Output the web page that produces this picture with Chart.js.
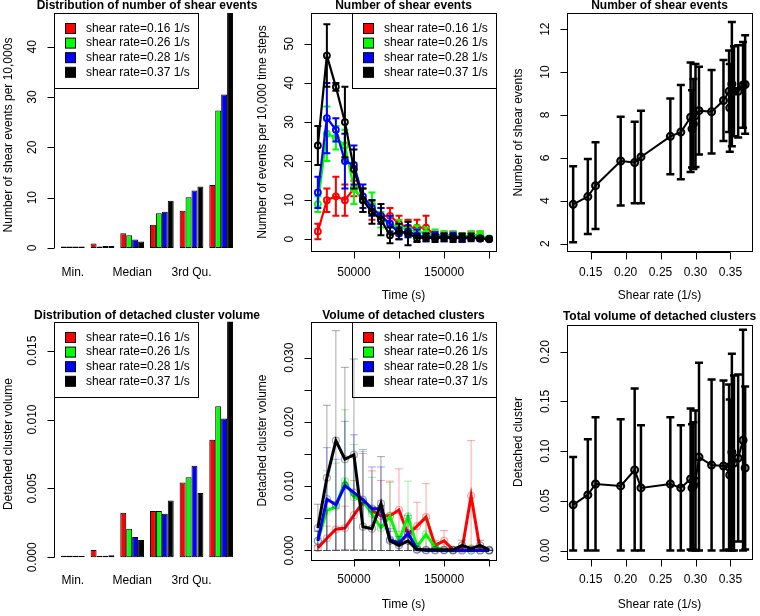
<!DOCTYPE html>
<html>
<head>
<meta charset="utf-8">
<script src="https://cdn.jsdelivr.net/npm/chart.js@4.4.1/dist/chart.umd.min.js"></script>
<style>
body { margin: 0; background: #fff; }
#wrap { position: relative; width: 760px; height: 616px; }
#wrap canvas { position: absolute; left: 0; top: 0; }
</style>
</head>
<body>
<div id="wrap">
<canvas id="c1" width="760" height="616"></canvas>
<canvas id="c2" width="760" height="616"></canvas>
<canvas id="c3" width="760" height="616"></canvas>
<canvas id="c4" width="760" height="616"></canvas>
<canvas id="c5" width="760" height="616"></canvas>
<canvas id="c6" width="760" height="616"></canvas>
</div>
<script>
var FONT = '"Liberation Sans", Arial, Helvetica, sans-serif';
Chart.defaults.font.family = FONT;
Chart.defaults.font.size = 12;
Chart.defaults.color = '#000';

var rateLabels = ['shear rate=0.16 1/s', 'shear rate=0.26 1/s', 'shear rate=0.28 1/s', 'shear rate=0.37 1/s'];
var rateColors = ['#ff0000', '#00ff00', '#0000ff', '#000000'];
var rateFaint = ['rgba(255,0,0,0.35)', 'rgba(0,200,0,0.35)', 'rgba(0,0,255,0.35)', 'rgba(0,0,0,0.35)'];

// summary bars
var summaryCats = ['Min.', '1st Qu.', 'Median', 'Mean', '3rd Qu.', 'Max.'];
var evRed   = [0.2, 0.9, 2.9, 4.6, 7.4, 12.5];
var evGreen = [0.1, 0.3, 2.5, 6.9, 10.1, 27.3];
var evBlue  = [0.1, 0.4, 1.7, 7.2, 11.4, 30.5];
var evBlack = [0.2, 0.4, 1.3, 9.4, 12.2, 47];

var volBarRed   = [0.00003, 0.00053, 0.00324, 0.00336, 0.00543, 0.00853];
var volBarGreen = [0.00001, 0.0001, 0.00208, 0.00336, 0.00582, 0.01097];
var volBarBlue  = [0.00001, 0.00005, 0.00147, 0.00316, 0.00664, 0.01007];
var volBarBlack = [0.00001, 0.00015, 0.00126, 0.00413, 0.00466, 0.0175];

// time series
var times = [10000, 20000, 30000, 40000, 50000, 60000, 70000, 80000, 90000, 100000,
             110000, 120000, 130000, 140000, 150000, 160000, 170000, 180000, 190000, 200000];
var evtRed     = [2, 10, 11, 10, 13, 10, 7, 6, 6, 4, 3, 3, 3, 1, 1, 1, 0.5, 1, 1, 0];
var evtRedSd   = [2, 3, 5, 4, 2, 3, 2, 2, 2, 2, 2, 2, 3, 1, 1, 1, 1, 1, 1, 0.3];
var evtGreen   = [9, 27, 26, 24, 13, 10, 9, 5, 4, 3, 2.5, 2, 1.5, 1, 1, 1, 0.5, 1, 1, 0.2];
var evtGreenSd = [2, 7, 3, 4, 4, 3, 3, 2, 2, 2, 2, 1.5, 1.5, 1.5, 1, 1, 1, 1, 1, 0.5];
var evtBlue    = [12, 31, 28, 20, 19, 11, 8, 6, 4, 1.5, 2, 1, 0.5, 0.8, 0.5, 0.7, 0.3, 0.3, 0.2, 0.1];
var evtBlueSd  = [4, 9, 3, 7, 5, 3, 2, 2, 2, 1.5, 1.5, 1.5, 1, 1, 1, 1, 1, 0.5, 0.5, 0.2];
var evtBlack   = [24, 47, 39, 30, 18, 10, 7, 5, 1, 2, 1.5, 0.3, 0.5, 0.3, 0.5, 0.3, 0.5, 0.5, 0.2, 0.1];
var evtBlackSd = [5, 8, 1, 9, 5, 3, 3, 4, 2, 2, 3, 1, 1, 1, 1, 1, 1, 1, 0.5, 0.2];

var volRed     = [0.0004, 0.0019, 0.0033, 0.0035, 0.0055, 0.0075, 0.0062, 0.0054, 0.0054, 0.0063, 0.0025, 0.0038, 0.0052, 0.0008, 0.0015, 0.0001, 0.0002, 0.0085, 0.0001, 0];
var volRedSd   = [0.0004, 0.0019, 0.0032, 0.0034, 0.0054, 0.0076, 0.0062, 0.0055, 0.0054, 0.0064, 0.0025, 0.0037, 0.0052, 0.0008, 0.0016, 0.0001, 0.0002, 0.0086, 0.0001, 0];
var volGreen   = [0.0015, 0.0062, 0.0068, 0.0108, 0.0083, 0.0077, 0.0057, 0.0035, 0.0053, 0.0015, 0.0053, 0.0006, 0.0025, 0.0005, 0.0001, 0, 0, 0, 0, 0];
var volGreenSd = [0.0015, 0.0062, 0.0068, 0.0111, 0.0082, 0.0077, 0.0057, 0.0035, 0.0053, 0.0015, 0.0055, 0.0006, 0.0025, 0.0005, 0.0001, 0, 0, 0, 0, 0];
var volBlue    = [0.0015, 0.0080, 0.0071, 0.0101, 0.0090, 0.0079, 0.0065, 0.0065, 0.0017, 0.0011, 0.0027, 0.0002, 0, 0, 0, 0, 0, 0, 0, 0];
var volBlueSd  = [0.0015, 0.0080, 0.0071, 0.0100, 0.0090, 0.0078, 0.0065, 0.0065, 0.0017, 0.0011, 0.0027, 0.0002, 0, 0, 0, 0, 0, 0, 0, 0];
var volBlack   = [0.0035, 0.0113, 0.0171, 0.0142, 0.0149, 0.0037, 0.0034, 0.0073, 0.0015, 0.0008, 0.0015, 0.0001, 0.0001, 0.0001, 0.0001, 0.0001, 0.0008, 0.0003, 0.0008, 0.0001];
var volBlackSd = [0.0037, 0.0113, 0.0171, 0.0143, 0.0149, 0.0037, 0.0034, 0.0073, 0.0015, 0.0008, 0.0015, 0.0001, 0.0001, 0.0001, 0.0001, 0.0001, 0.0008, 0.0003, 0.0008, 0.0001];

// per shear rate
var rates = [0.125, 0.146, 0.157, 0.193, 0.213, 0.222, 0.264, 0.279, 0.293, 0.295, 0.297,
             0.300, 0.305, 0.323, 0.340, 0.348, 0.349, 0.352, 0.355, 0.361, 0.368, 0.371];
var shearEv   = [3.83, 4.19, 4.70, 5.85, 5.78, 6.04, 7.00, 7.20, 7.89, 7.35, 7.58,
                 7.97, 8.20, 8.15, 8.67, 9.10, 8.33, 9.44, 9.10, 9.10, 9.40, 9.42];
var shearEvSd = [1.77, 1.75, 2.02, 2.07, 1.90, 2.16, 1.77, 2.20, 2.55, 1.80, 2.10,
                 2.40, 2.05, 1.95, 1.89, 1.90, 2.05, 2.90, 2.10, 2.15, 2.00, 2.30];
var totVol    = [0.046, 0.056, 0.067, 0.065, 0.081, 0.063, 0.067, 0.063, 0.072, 0.063, 0.065,
                 0.070, 0.094, 0.086, 0.085, 0.084, 0.076, 0.099, 0.088, 0.093, 0.111, 0.083];
var totVolSd  = [0.048, 0.056, 0.067, 0.067, 0.082, 0.063, 0.067, 0.063, 0.071, 0.064, 0.064,
                 0.071, 0.095, 0.086, 0.086, 0.083, 0.076, 0.099, 0.088, 0.084, 0.111, 0.082];

function pts(xs, ys) {
  return xs.map(function(x, i) { return {x: x, y: ys[i]}; });
}

function rotText(ctx, t, x, y) {
  ctx.save();
  ctx.translate(x, y);
  ctx.rotate(-Math.PI / 2);
  ctx.fillText(t, 0, 0);
  ctx.restore();
}

function crisp(v) { return Math.round(v) + 0.5; }

function drawLegend(chart, r, side) {
  var ctx = chart.ctx, w = 144, h = 75;
  var bx = side === 'left' ? Math.round(r.left) : Math.round(r.right) - w, by = Math.round(r.top);
  ctx.save();
  ctx.fillStyle = '#fff';
  ctx.fillRect(bx, by, w, h);
  ctx.strokeStyle = '#000';
  ctx.lineWidth = 1;
  ctx.strokeRect(bx + 0.5, by + 0.5, w, h);
  ctx.font = '12px ' + FONT;
  ctx.textAlign = 'left';
  ctx.textBaseline = 'middle';
  chart.data.datasets.forEach(function(ds, i) {
    var cy = by + 15.5 + i * 14.6;
    ctx.fillStyle = rateColors[i];
    ctx.fillRect(bx + 11.5, cy - 5, 10, 10);
    ctx.strokeRect(bx + 11.5, cy - 5, 10, 10);
    ctx.fillStyle = '#000';
    ctx.fillText(ds.label, bx + 32, cy);
  });
  ctx.restore();
}

// R-like frame: title, box, axes, tick labels, axis titles, legend, error bars
function rPanel(cfg) {
  function region(chart) {
    var a = chart.chartArea, e = cfg.extend || 0;
    return {left: a.left - e, right: a.right + e, top: a.top, bottom: a.bottom};
  }
  return {
    id: 'rPanel',
    beforeDatasetsDraw: function(chart) {
      if (cfg.legend) drawLegend(chart, region(chart), cfg.legend);
    },
    afterDatasetDraw: function(chart, args) {
      if (!cfg.sd) return;
      var ctx = chart.ctx, a = chart.chartArea;
      var xs = chart.scales.x, ys = chart.scales.y;
      var data = chart.data.datasets[args.index].data, sd = cfg.sd[args.index];
      var cap = cfg.cap || 4;
      ctx.save();
      ctx.beginPath();
      ctx.rect(a.left, a.top, a.right - a.left, a.bottom - a.top);
      ctx.clip();
      ctx.strokeStyle = cfg.errColors[args.index];
      ctx.lineWidth = cfg.errWidth || 2;
      data.forEach(function(p, i) {
        var lo = p.y - sd[i], hi = p.y + sd[i];
        if (cfg.floor0) lo = Math.max(0, lo);
        var x = xs.getPixelForValue(p.x);
        var y1 = ys.getPixelForValue(lo), y2 = ys.getPixelForValue(hi);
        ctx.beginPath();
        ctx.moveTo(x, y1); ctx.lineTo(x, y2);
        ctx.moveTo(x - cap, y1); ctx.lineTo(x + cap, y1);
        ctx.moveTo(x - cap, y2); ctx.lineTo(x + cap, y2);
        ctx.stroke();
      });
      ctx.restore();
    },
    afterDraw: function(chart) {
      var ctx = chart.ctx, r = region(chart);
      var xs = chart.scales.x, ys = chart.scales.y;
      ctx.save();
      ctx.strokeStyle = '#000';
      ctx.fillStyle = '#000';
      ctx.lineWidth = 1;
      ctx.textAlign = 'center';
      ctx.textBaseline = 'middle';
      ctx.font = 'bold 12px ' + FONT;
      ctx.fillText(cfg.title, (r.left + r.right) / 2, cfg.titleY);
      ctx.font = '12px ' + FONT;
      if (cfg.box) {
        ctx.strokeRect(crisp(r.left), crisp(r.top), Math.round(r.right - r.left), Math.round(r.bottom - r.top));
      }
      // y axis
      var L = crisp(r.left);
      var yp = cfg.yTicks.map(function(v) { return ys.getPixelForValue(v); });
      ctx.beginPath();
      ctx.moveTo(L, yp[0]); ctx.lineTo(L, yp[yp.length - 1]);
      yp.forEach(function(p) { ctx.moveTo(L - 7, crisp(p)); ctx.lineTo(L, crisp(p)); });
      ctx.stroke();
      yp.forEach(function(p, i) {
        if (cfg.yTickLabels[i]) rotText(ctx, cfg.yTickLabels[i], r.left - 21, p);
      });
      // x axis
      if (cfg.xTicks) {
        var B = crisp(r.bottom);
        var xp = cfg.xTicks.map(function(v) { return xs.getPixelForValue(v); });
        ctx.beginPath();
        ctx.moveTo(xp[0], B); ctx.lineTo(xp[xp.length - 1], B);
        xp.forEach(function(p) { ctx.moveTo(crisp(p), B); ctx.lineTo(crisp(p), B + 7); });
        ctx.stroke();
        xp.forEach(function(p, i) {
          if (cfg.xTickLabels[i]) ctx.fillText(cfg.xTickLabels[i], p, cfg.xLabelY);
        });
      }
      if (cfg.catShown) {
        cfg.catShown.forEach(function(i) {
          ctx.fillText(chart.data.labels[i], xs.getPixelForValue(i), cfg.xLabelY);
        });
      }
      rotText(ctx, cfg.yTitle, cfg.yTitleX, (r.top + r.bottom) / 2);
      if (cfg.xTitle) ctx.fillText(cfg.xTitle, (r.left + r.right) / 2, cfg.xTitleY);
      ctx.restore();
    }
  };
}

function baseOptions(area) {
  return {
    responsive: false,
    animation: false,
    devicePixelRatio: 1,
    events: [],
    layout: {padding: {left: area[0], right: 760 - area[1], top: area[2], bottom: 616 - area[3]}},
    plugins: {
      legend: {display: false},
      tooltip: {enabled: false},
      title: {display: false}
    }
  };
}

function barChart(id, area, series, ymin, ymax, cfg) {
  var opt = baseOptions(area);
  opt.datasets = {bar: {categoryPercentage: 0.8, barPercentage: 1, borderColor: '#000',
                        borderWidth: 1, borderSkipped: false, minBarLength: 1.5}};
  opt.scales = {x: {display: false}, y: {display: false, min: ymin, max: ymax}};
  return new Chart(document.getElementById(id), {
    type: 'bar',
    data: {
      labels: summaryCats,
      datasets: series.map(function(s, i) {
        return {label: rateLabels[i], data: s, backgroundColor: rateColors[i]};
      })
    },
    options: opt,
    plugins: [rPanel(cfg)]
  });
}

function timeChart(id, area, series, ymin, ymax, style, cfg) {
  var opt = baseOptions(area);
  opt.scales = {
    x: {type: 'linear', display: false, min: 2400, max: 207600},
    y: {display: false, min: ymin, max: ymax}
  };
  return new Chart(document.getElementById(id), {
    type: 'line',
    data: {
      datasets: series.map(function(s, i) {
        return {
          label: rateLabels[i], data: pts(times, s), order: 3 - i,
          borderColor: rateColors[i], borderWidth: style.line,
          pointRadius: style.r, pointBorderWidth: style.pw,
          pointBorderColor: style.faint ? rateFaint[i] : rateColors[i],
          pointBackgroundColor: 'rgba(0,0,0,0)'
        };
      })
    },
    options: opt,
    plugins: [rPanel(cfg)]
  });
}

function rateChart(id, area, ys, ymin, ymax, cfg) {
  var opt = baseOptions(area);
  opt.scales = {
    x: {type: 'linear', display: false, min: 0.1162, max: 0.3808},
    y: {display: false, min: ymin, max: ymax}
  };
  return new Chart(document.getElementById(id), {
    type: 'line',
    data: {
      datasets: [{
        label: cfg.title, data: pts(rates, ys),
        borderColor: '#000', borderWidth: 2,
        pointRadius: 3.5, pointBorderWidth: 2,
        pointBorderColor: '#000', pointBackgroundColor: 'rgba(0,0,0,0.35)'
      }]
    },
    options: opt,
    plugins: [rPanel(cfg)]
  });
}

// top-left
barChart('c1', [58, 236, 13, 257], [evRed, evGreen, evBlue, evBlack], -1.8, 46.7, {
  title: 'Distribution of number of shear events', titleY: 6,
  extend: 3.9, legend: 'left',
  yTicks: [0, 10, 20, 30, 40], yTickLabels: ['0', '10', '20', '30', '40'],
  catShown: [0, 2, 4], xLabelY: 273,
  yTitle: 'Number of shear events per 10,000s', yTitleX: 9
});

// top-middle
timeChart('c2', [311, 496, 13, 251], [evtRed, evtGreen, evtBlue, evtBlack], -3.0, 57.9,
  {line: 2.2, r: 3, pw: 1.8, faint: false}, {
    title: 'Number of shear events', titleY: 6,
    box: true, legend: 'right',
    sd: [evtRedSd, evtGreenSd, evtBlueSd, evtBlackSd], errColors: rateColors, errWidth: 2, cap: 3.5,
    yTicks: [0, 10, 20, 30, 40, 50], yTickLabels: ['0', '10', '20', '30', '40', '50'],
    xTicks: [50000, 100000, 150000, 200000], xTickLabels: ['50000', '', '150000', ''], xLabelY: 273,
    yTitle: 'Number of events per 10,000 time steps', yTitleX: 263,
    xTitle: 'Time (s)', xTitleY: 296
  });

// top-right
rateChart('c3', [567, 752, 13.3, 251.7], shearEv, 1.62, 12.74, {
  title: 'Number of shear events', titleY: 6,
  box: true,
  sd: [shearEvSd], errColors: ['#000'], errWidth: 2.5, cap: 4,
  yTicks: [2, 4, 6, 8, 10, 12], yTickLabels: ['2', '4', '6', '8', '10', '12'],
  xTicks: [0.15, 0.20, 0.25, 0.30, 0.35], xTickLabels: ['0.15', '0.20', '0.25', '0.30', '0.35'], xLabelY: 273,
  yTitle: 'Number of shear events', yTitleX: 519,
  xTitle: 'Shear rate (1/s)', xTitleY: 296
});

// bottom-left
barChart('c4', [58, 236, 321.7, 566.4], [volBarRed, volBarGreen, volBarBlue, volBarBlack], -0.000658, 0.0171, {
  title: 'Distribution of detached cluster volume', titleY: 316,
  extend: 3.9, legend: 'left',
  yTicks: [0, 0.005, 0.010, 0.015], yTickLabels: ['0.000', '0.005', '0.010', '0.015'],
  catShown: [0, 2, 4], xLabelY: 581,
  yTitle: 'Detached cluster volume', yTitleX: 9
});

// bottom-middle
timeChart('c5', [311, 496, 321.7, 559.3], [volRed, volGreen, volBlue, volBlack], -0.00137, 0.0356,
  {line: 3, r: 3.5, pw: 1.2, faint: true}, {
    title: 'Volume of detached clusters', titleY: 316,
    box: true, legend: 'right', floor0: true,
    sd: [volRedSd, volGreenSd, volBlueSd, volBlackSd], errColors: rateFaint, errWidth: 1, cap: 4,
    yTicks: [0, 0.005, 0.010, 0.015, 0.020, 0.025, 0.030],
    yTickLabels: ['0.000', '', '0.010', '', '0.020', '', '0.030'],
    xTicks: [50000, 100000, 150000, 200000], xTickLabels: ['50000', '', '150000', ''], xLabelY: 580,
    yTitle: 'Detached cluster volume', yTitleX: 263,
    xTitle: 'Time (s)', xTitleY: 605
  });

// bottom-right
rateChart('c6', [567, 752, 325, 559], totVol, -0.0085, 0.2269, {
  title: 'Total volume of detached clusters', titleY: 317,
  box: true, floor0: true,
  sd: [totVolSd], errColors: ['#000'], errWidth: 2.5, cap: 4,
  yTicks: [0, 0.05, 0.10, 0.15, 0.20], yTickLabels: ['0.00', '0.05', '0.10', '0.15', '0.20'],
  xTicks: [0.15, 0.20, 0.25, 0.30, 0.35], xTickLabels: ['0.15', '0.20', '0.25', '0.30', '0.35'], xLabelY: 580,
  yTitle: 'Detached cluster', yTitleX: 519,
  xTitle: 'Shear rate (1/s)', xTitleY: 605
});
</script>
</body>
</html>
